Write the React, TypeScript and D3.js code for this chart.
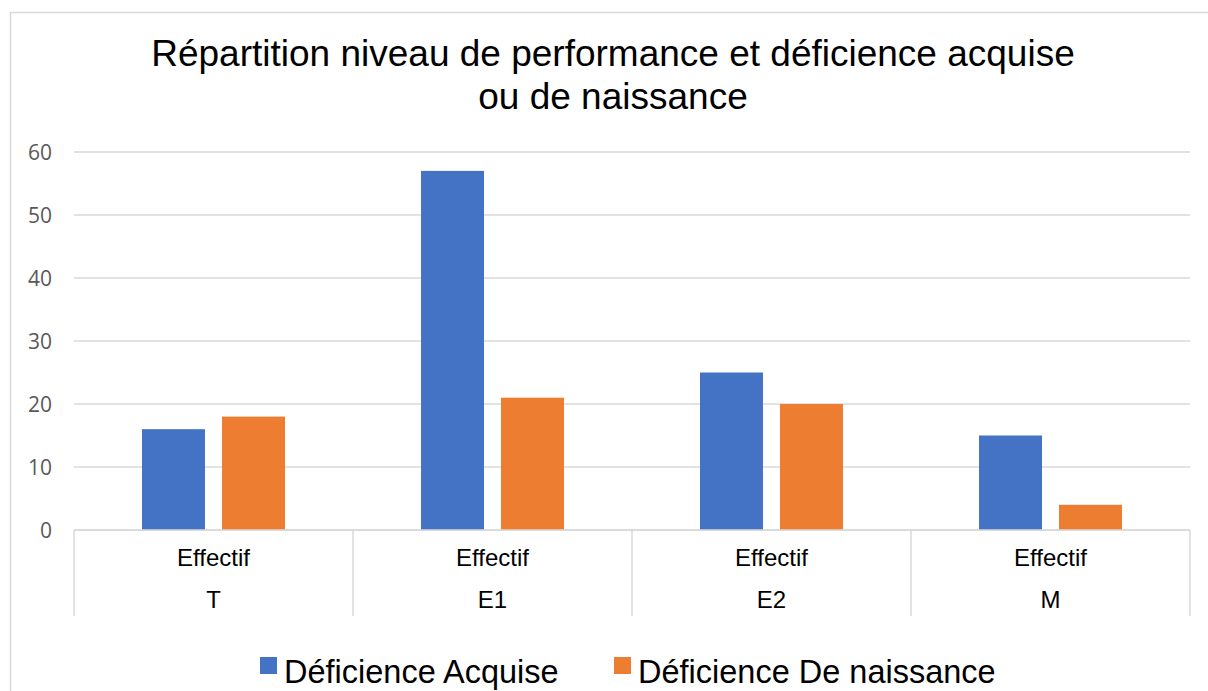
import React from "react";
import * as d3 from "d3";

const categories = ["T", "E1", "E2", "M"];
const subLabel = "Effectif";
const seriesNames = ["Déficience Acquise", "Déficience De naissance"];
const seriesColors = ["#4472C4", "#ED7D31"];
const acquise = [16, 57, 25, 15];
const naissance = [18, 21, 20, 4];
const yTicks = [0, 10, 20, 30, 40, 50, 60];
const titleLines = ["Répartition niveau de performance et déficience acquise", "ou de naissance"];

const W = 1208;
const H = 691;
const plotLeft = 74;
const plotRight = 1190;
const plotTop = 152;
const plotBottom = 530;

export default function App() {
  const x = d3.scaleBand<string>().domain(categories).range([plotLeft, plotRight]).paddingInner(0).paddingOuter(0);
  const band = x.bandwidth();
  const groupW = 143;
  const inner = d3
    .scaleBand<string>()
    .domain(seriesNames)
    .range([(band - groupW) / 2, (band + groupW) / 2])
    .paddingInner(17 / 80)
    .paddingOuter(0);
  const y = d3.scaleLinear().domain([0, 60]).range([plotBottom, plotTop]);
  const series = [acquise, naissance];
  const font = "'Liberation Sans', Arial, sans-serif";
  const grid = "#d9d9d9";

  return (
    <svg width={W} height={H} style={{ position: "absolute", left: 0, top: 0, background: "#fff" }}>
      <rect x={0} y={0} width={W} height={H} fill="#fff" />
      <path d={`M10.5,${H} V12.5 H${W}`} fill="none" stroke={grid} strokeWidth={1.5} />
      {titleLines.map((t, i) => (
        <text key={i} x={613} y={66 + i * 43} textAnchor="middle" fontFamily={font} fontSize={37} fill="#000">
          {t}
        </text>
      ))}
      {yTicks.map((v) => (
        <g key={v}>
          <line x1={plotLeft} x2={plotRight} y1={y(v)} y2={y(v)} stroke={grid} strokeWidth={1.5} />
          <text
            x={52}
            y={y(v) + 7.5}
            textAnchor="end"
            fontFamily="'Open Sans', sans-serif"
            fontSize={21}
            fill="#595959"
          >
            {v}
          </text>
        </g>
      ))}
      {categories.map((c, i) => (
        <g key={c}>
          {series.map((s, k) => (
            <rect
              key={k}
              x={(x(c) as number) + (inner(seriesNames[k]) as number)}
              y={y(s[i])}
              width={inner.bandwidth()}
              height={y(0) - y(s[i])}
              fill={seriesColors[k]}
            />
          ))}
          <text x={(x(c) as number) + band / 2} y={566} textAnchor="middle" fontFamily={font} fontSize={24} fill="#000">
            {subLabel}
          </text>
          <text x={(x(c) as number) + band / 2} y={608} textAnchor="middle" fontFamily={font} fontSize={24} fill="#000">
            {c}
          </text>
        </g>
      ))}
      {[...categories.map((c) => x(c) as number), plotRight].map((bx, i) => (
        <line key={i} x1={bx} x2={bx} y1={plotBottom} y2={616} stroke={grid} strokeWidth={1.5} />
      ))}
      <line x1={plotLeft} x2={plotRight} y1={plotBottom} y2={plotBottom} stroke={grid} strokeWidth={1.5} />
      {seriesNames.map((n, k) => {
        const lx = k === 0 ? 260 : 614;
        return (
          <g key={n}>
            <rect x={lx} y={657} width={17} height={17} fill={seriesColors[k]} />
            <text x={lx + 24} y={683} fontFamily={font} fontSize={32.5} fill="#000">
              {n}
            </text>
          </g>
        );
      })}
    </svg>
  );
}
